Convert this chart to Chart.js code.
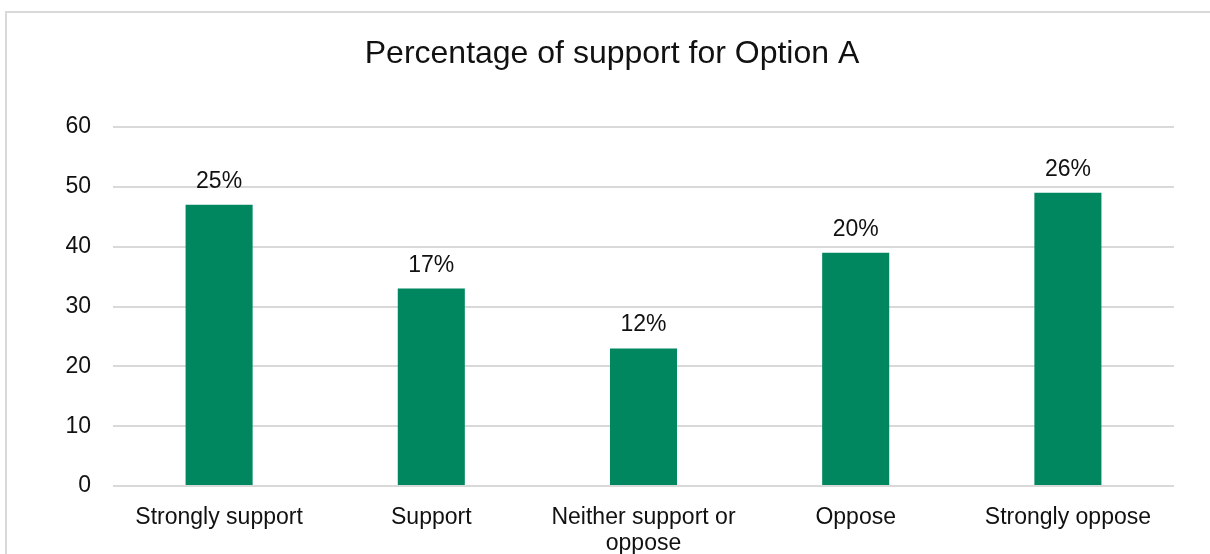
<!DOCTYPE html>
<html>
<head>
<meta charset="utf-8">
<script src="https://cdn.jsdelivr.net/npm/chart.js@4/dist/chart.umd.min.js"></script>
<style>
  html, body { margin: 0; padding: 0; background: #ffffff; overflow: hidden; }
  #wrap { width: 1210px; height: 554px; position: relative; }
</style>
</head>
<body>
<div id="wrap"><canvas id="c" width="1210" height="554"></canvas></div>
<script>
const categories = ['Strongly support', 'Support', ['Neither support or', 'oppose'], 'Oppose', 'Strongly oppose'];
const values = [47, 33, 23, 39, 49];
const percentLabels = ['25%', '17%', '12%', '20%', '26%'];
const yTicks = [0, 10, 20, 30, 40, 50, 60];

const FONT = '"Liberation Sans", Arial, sans-serif';
const TEXT = '#111111';
const GRID = '#d9d9d9';
const BAR = '#00875f';

const frame = {
  id: 'frame',
  beforeDraw(chart) {
    const ctx = chart.ctx;
    ctx.save();
    ctx.fillStyle = '#ffffff';
    ctx.fillRect(0, 0, chart.width, chart.height);
    ctx.strokeStyle = GRID;
    ctx.lineWidth = 2;
    ctx.strokeRect(6, 12, 1400, 1000);
    ctx.restore();
  }
};

const valueLabels = {
  id: 'valueLabels',
  afterDatasetsDraw(chart) {
    const ctx = chart.ctx;
    const meta = chart.getDatasetMeta(0);
    ctx.save();
    ctx.font = '23px ' + FONT;
    ctx.fillStyle = TEXT;
    ctx.textAlign = 'center';
    ctx.textBaseline = 'alphabetic';
    meta.data.forEach((bar, i) => {
      ctx.fillText(percentLabels[i], bar.x, bar.y - 17);
    });
    ctx.restore();
  }
};

new Chart(document.getElementById('c'), {
  type: 'bar',
  data: {
    labels: categories,
    datasets: [{
      data: values,
      backgroundColor: BAR,
      borderWidth: 0,
      barPercentage: 0.316,
      categoryPercentage: 1
    }]
  },
  options: {
    responsive: false,
    animation: false,
    devicePixelRatio: 1,
    layout: { padding: { left: 50, right: 36, top: 0, bottom: 0 } },
    plugins: {
      legend: { display: false },
      tooltip: { enabled: false },
      title: {
        display: true,
        text: 'Percentage of support for Option A',
        color: TEXT,
        font: { family: FONT, size: 32, weight: 'normal', lineHeight: 1.2 },
        padding: { top: 35, bottom: 53.6 }
      }
    },
    scales: {
      x: {
        grid: { display: false, drawTicks: false },
        border: { display: false },
        ticks: {
          color: TEXT,
          font: { family: FONT, size: 23, lineHeight: 1.13 },
          padding: 19,
          maxRotation: 0,
          autoSkip: false
        },
        afterFit(s) { s.height = 68; }
      },
      y: {
        min: 0,
        max: 60,
        afterBuildTicks(s) { s.ticks = yTicks.map(v => ({ value: v })); },
        grid: { color: GRID, lineWidth: 2, drawTicks: false },
        border: { display: false },
        ticks: {
          color: TEXT,
          font: { family: FONT, size: 23 },
          padding: 22
        },
        afterFit(s) { s.width = 63; }
      }
    }
  },
  plugins: [frame, valueLabels]
});
</script>
</body>
</html>
